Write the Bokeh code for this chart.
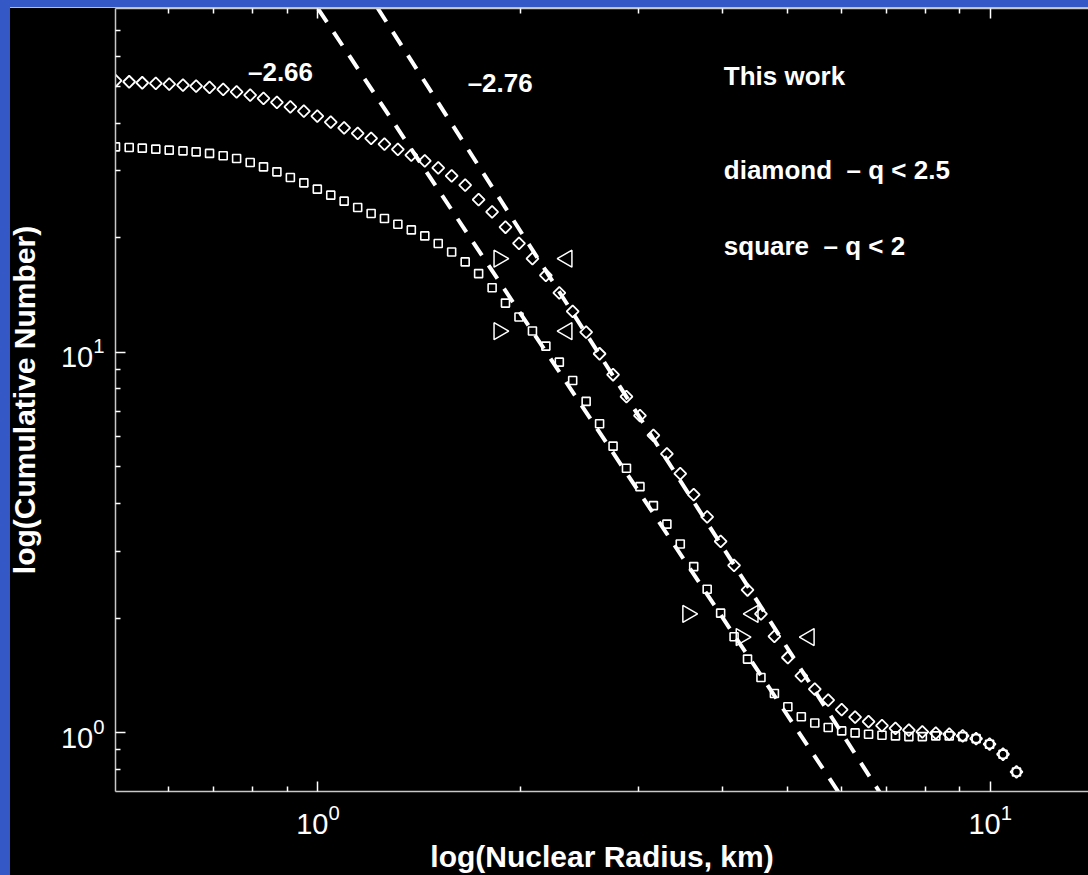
from math import pi
from bokeh.plotting import figure
from bokeh.models import LogAxis, FixedTicker, Label, Spacer
from bokeh.layouts import row, column
from bokeh.embed import file_html
from bokeh.resources import INLINE

# ---------------- data ----------------
RADIUS_KM = [0.500, 0.524, 0.548, 0.574, 0.601, 0.630, 0.659, 0.690, 0.723, 0.757,
             0.793, 0.830, 0.869, 0.910, 0.953, 0.998, 1.045, 1.094, 1.146, 1.200,
             1.256, 1.315, 1.377, 1.442, 1.510, 1.581, 1.656, 1.734, 1.816, 1.901,
             1.991, 2.085, 2.183, 2.286, 2.393, 2.506, 2.624, 2.748, 2.877, 3.013,
             3.155, 3.304, 3.459, 3.622, 3.793, 3.972, 4.159, 4.355, 4.560, 4.775,
             5.000, 5.236, 5.483, 5.741, 6.012, 6.295, 6.592, 6.902, 7.228, 7.568,
             7.925, 8.299, 8.690, 9.099, 9.528, 9.977, 10.447, 10.940]

N_DIAMOND = [51.67, 51.35, 51.04, 50.85, 50.64, 50.33, 50.03, 49.64, 49.03, 48.33,
             47.37, 46.44, 45.33, 44.13, 43.00, 41.72, 40.23, 38.86, 37.56, 36.44,
             35.20, 34.09, 32.93, 31.82, 30.50, 29.05, 27.47, 25.15, 23.35, 21.29,
             19.32, 17.61, 15.92, 14.31, 12.80, 11.29, 9.90, 8.72, 7.64, 6.81,
             6.04, 5.40, 4.79, 4.22, 3.69, 3.18, 2.75, 2.37, 2.05, 1.79,
             1.575, 1.41, 1.30, 1.217, 1.149, 1.098, 1.069, 1.043, 1.026, 1.015,
             1.004, 0.996, 0.990, 0.980, 0.964, 0.932, 0.877, 0.788]

N_SQUARE = [34.63, 34.51, 34.36, 34.15, 33.95, 33.80, 33.60, 33.28, 32.80, 32.28,
            31.51, 30.68, 29.77, 28.77, 27.85, 26.81, 25.85, 24.93, 23.99, 23.13,
            22.44, 21.68, 20.95, 20.20, 19.29, 18.33, 17.26, 16.08, 14.76, 13.45,
            12.37, 11.36, 10.37, 9.41, 8.42, 7.42, 6.48, 5.66, 4.95, 4.43,
            3.95, 3.53, 3.13, 2.73, 2.38, 2.06, 1.786, 1.56, 1.395, 1.267,
            1.169, 1.100, 1.060, 1.031, 1.010, 0.998, 0.990, 0.984, 0.980, 0.976,
            0.976, 0.980, 0.980, 0.976, 0.964, 0.932, 0.877, 0.788]

# range markers (right- and left-pointing triangles)
TRI_Y = [17.6, 11.35, 2.05, 1.782]
TRI_RIGHT_X = [1.859, 1.859, 3.549, 4.261]
TRI_LEFT_X = [2.347, 2.347, 4.439, 5.379]

# power-law fits  N = A * R^slope
FIT_SLOPES = [-2.66, -2.76]
FIT_AMPS = [80.0, 141.0]
FIT_LABELS = ["\u20132.66", "\u20132.76"]
FIT_R_SPAN = [0.9, 8.0]

X_MAJOR = [1, 10]
X_MINOR = [0.6, 0.7, 0.8, 0.9, 2, 3, 4, 5, 6, 7, 8, 9]
Y_MAJOR = [1, 10]
Y_MINOR = [0.8, 0.9, 2, 3, 4, 5, 6, 7, 8, 9, 20, 30, 40, 50, 60, 70]

X_TITLE = "log(Nuclear Radius, km)"
Y_TITLE = "log(Cumulative Number)"
LEGEND_LINES = ["This work", "diamond\u00a0 \u2013 q < 2.5", "square\u00a0 \u2013 q < 2"]

BLUE = "#3459c6"
FONT = "Liberation Sans"

p = figure(width=1088, height=868, x_axis_type="log", y_axis_type="log",
           x_range=(0.5, 14), y_range=(0.7, 80),
           output_backend="svg", toolbar_location=None,
           min_border_left=115, min_border_right=0, min_border_top=1, min_border_bottom=84,
           background_fill_color="black", border_fill_color="black",
           outline_line_color=None)
p.grid.visible = False

xt = FixedTicker(ticks=X_MAJOR, minor_ticks=X_MINOR)
yt = FixedTicker(ticks=Y_MAJOR, minor_ticks=Y_MINOR)

def style_axis(ax):
    ax.axis_line_color = "#c8c8c8"
    ax.axis_line_width = 1.5
    ax.major_tick_line_color = "white"
    ax.minor_tick_line_color = "white"
    ax.major_tick_line_width = 1.5
    ax.minor_tick_line_width = 1.5
    ax.major_tick_in = 10
    ax.major_tick_out = 0
    ax.minor_tick_in = 5
    ax.minor_tick_out = 0
    ax.major_label_text_color = "white"
    ax.major_label_text_font = FONT
    ax.major_label_text_font_size = "29px"
    ax.axis_label_text_color = "white"
    ax.axis_label_text_font = FONT
    ax.axis_label_text_font_style = "bold"
    ax.axis_label_text_font_size = "30px"

xa = p.xaxis[0]
xa.ticker = xt
style_axis(xa)
xa.major_label_standoff = 12
xa.axis_label = X_TITLE
xa.axis_label_standoff = 3

ya = p.yaxis[0]
ya.ticker = yt
style_axis(ya)
ya.major_label_standoff = 11
ya.axis_label = Y_TITLE
ya.axis_label_standoff = 17

top = LogAxis(ticker=xt)
style_axis(top)
top.major_label_text_font_size = "1px"
top.major_label_text_alpha = 0
top.major_label_standoff = 0
p.add_layout(top, "above")

# fit lines
for s, a in zip(FIT_SLOPES, FIT_AMPS):
    ys = [a * r ** s for r in FIT_R_SPAN]
    p.line(FIT_R_SPAN, ys, line_color="white", line_width=4, line_dash="16 12")

# data
p.scatter(RADIUS_KM, N_SQUARE, marker="square", size=8, fill_color=None,
          line_color="white", line_width=1.6)
p.scatter(RADIUS_KM, N_DIAMOND, marker="square", angle=pi / 4, size=8.5, fill_color=None,
          line_color="white", line_width=1.8)
p.scatter(TRI_RIGHT_X, TRI_Y, marker="triangle", angle=-pi / 2, size=17, fill_color=None,
          line_color="white", line_width=1.5)
p.scatter(TRI_LEFT_X, TRI_Y, marker="triangle", angle=pi / 2, size=17, fill_color=None,
          line_color="white", line_width=1.5)

# annotations
for (lx, ly), txt in zip([(0.787, 54.4), (1.670, 51.0)], FIT_LABELS):
    p.add_layout(Label(x=lx, y=ly, text=txt, text_color="white", text_font=FONT,
                       text_font_style="bold", text_font_size="26px",
                       text_align="left", text_baseline="alphabetic"))
for ly, txt in zip([53.15, 30.08, 19.01], LEGEND_LINES):
    p.add_layout(Label(x=4.015, y=ly, text=txt, text_color="white", text_font=FONT,
                       text_font_style="bold", text_font_size="26px",
                       text_align="left", text_baseline="alphabetic"))

top_bar = Spacer(width=1088, height=7, styles={"background-color": BLUE})
col = column(top_bar, p)
col.margin = (0, 0, 0, -10)
left_bar = Spacer(width=10, height=875,
                  styles={"background-color": BLUE, "position": "relative", "z-index": "10"})
page = row(left_bar, col)

open("out.html", "w").write(file_html(page, INLINE))
